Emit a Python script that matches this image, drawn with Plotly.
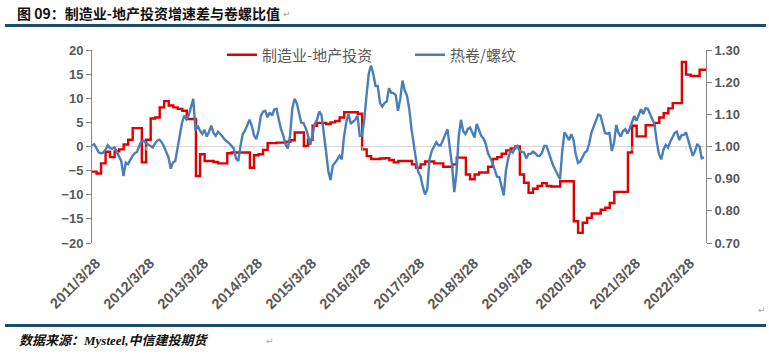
import numpy as np
import pandas as pd
import plotly.graph_objects as go

# ---------------- data ----------------
start_date = "2011-03-28"
end_date = "2022-08-10"

# 制造业-地产投资 (monthly, from 2011/3/28)
red_values = [
    -5.2, -5.6, -3.5, -1.1, -2.2, -1.0, -0.6, 0.4, 1.4, 3.8, 3.8, -3.3,
    1.4, 5.8, 6.0, 8.1, 9.4, 8.5, 8.1, 7.8, 7.4, 5.7, 5.7, -6.1,
    -1.6, -3.0, -3.0, -3.2, -3.5, -3.5, -1.4, -1.25, -1.25, -1.25, -1.25, -4.4,
    -1.8, -1.6, -0.7, 0.7, 0.7, 0.8, 0.8, 1.0, 1.3, 2.9, 2.9, 0.1,
    1.4, 4.3, 4.9, 4.9, 4.65, 5.0, 5.3, 6.0, 7.1, 7.1, 7.1, 6.8,
    -0.6, -2.0, -2.6, -2.6, -2.5, -2.4, -2.8, -3.3, -3.0, -3.0, -3.0, -3.7,
    -4.4, -3.7, -3.1, -3.1, -3.5, -3.5, -4.2, -4.2, -3.7, -2.3, -2.3, -5.8,
    -6.8, -5.8, -5.4, -5.4, -4.2, -2.6, -2.2, -1.5, -0.8, -0.4, 0.0, -5.8,
    -7.5, -9.6, -8.75, -8.2, -7.6, -8.2, -8.3, -8.3, -7.2, -7.2, -7.2, -15.5,
    -17.9, -15.8, -14.8, -13.9, -13.9, -13.1, -12.7, -11.7, -9.4, -9.4, -9.4, -1.25,
    4.3, 2.1, 2.1, 4.4, 4.4, 4.9, 6.0, 6.9, 7.9, 9.0, 9.0, 17.5,
    14.9, 14.6, 14.6, 15.9, 15.9,
]

# 热卷/螺纹 (half-monthly, from 2011/3/28)
blue_values = [
    1.004, 1.007, 0.994, 0.981, 0.979, 0.981, 0.990, 1.004, 0.995, 0.993,
    0.997, 0.983, 0.971, 0.955, 0.908, 0.950, 0.945, 0.960, 0.971, 0.979,
    0.983, 1.002, 1.016, 1.018, 1.010, 1.006, 1.000, 0.997, 1.009, 1.018,
    1.021, 1.013, 1.000, 0.983, 0.966, 0.931, 0.950, 0.955, 0.997, 1.042,
    1.073, 1.096, 1.085, 1.098, 1.122, 1.148, 1.049, 1.065, 1.049, 1.039,
    1.052, 1.031, 1.046, 1.065, 1.042, 1.033, 1.046, 1.039, 1.031, 1.021,
    1.016, 1.010, 1.002, 0.994, 0.963, 0.955, 1.002, 1.039, 1.049, 1.065,
    1.083, 1.065, 1.035, 1.023, 1.049, 1.094, 1.108, 1.111, 1.091, 1.106,
    1.096, 1.115, 1.117, 1.085, 1.054, 1.035, 1.007, 0.994, 1.033, 1.117,
    1.148, 1.135, 1.101, 1.074, 1.073, 1.057, 1.035, 1.005, 1.034, 1.070,
    1.083, 1.109, 1.098, 1.049, 0.986, 0.924, 0.896, 0.940, 0.948, 0.959,
    0.971, 0.960, 1.031, 1.075, 1.101, 1.070, 1.077, 1.083, 1.096, 1.033,
    1.035, 1.083, 1.158, 1.226, 1.252, 1.226, 1.188, 1.188, 1.135, 1.124,
    1.135, 1.140, 1.181, 1.167, 1.166, 1.160, 1.111, 1.148, 1.205, 1.174,
    1.158, 1.117, 1.054, 1.004, 0.960, 0.921, 0.908, 0.875, 0.851, 0.867,
    0.960, 0.986, 1.000, 1.013, 1.004, 1.004, 1.020, 1.039, 1.054, 0.997,
    0.942, 0.858, 0.919, 1.033, 1.083, 1.047, 1.039, 1.054, 1.059, 1.044,
    1.028, 1.070, 1.050, 1.033, 1.025, 1.008, 0.979, 0.966, 0.950, 0.927,
    0.906, 0.905, 0.872, 0.848, 0.927, 0.964, 0.986, 0.981, 0.997, 1.002,
    0.988, 0.983, 0.981, 0.963, 0.977, 0.977, 0.984, 0.979, 0.971, 0.971,
    0.981, 1.002, 1.002, 0.981, 0.960, 0.940, 0.926, 0.914, 0.898, 0.986,
    1.044, 1.033, 1.020, 1.038, 1.021, 0.976, 0.949, 0.953, 0.970, 0.981,
    0.986, 1.010, 1.044, 1.063, 1.080, 1.099, 1.096, 1.065, 1.042, 1.040,
    1.042, 0.986, 1.010, 1.067, 1.042, 1.031, 1.048, 1.054, 1.040, 1.056,
    1.077, 1.095, 1.080, 1.096, 1.116, 1.101, 1.119, 1.117, 1.101, 1.083,
    1.069, 1.015, 0.976, 0.960, 0.990, 1.005, 0.997, 1.015, 1.027, 1.042,
    1.046, 1.020, 1.035, 1.036, 1.044, 1.020, 0.997, 0.971, 0.985, 1.008,
    1.000, 0.963, 0.966,
]

tick_years = list(range(2011, 2023))
tick_labels = [f"{y}/3/28" for y in tick_years]
tick_dates = [f"{y}-03-28" for y in tick_years]

red_name = "制造业-地产投资"
blue_name = "热卷/螺纹"
title_text = "图 09：制造业-地产投资增速差与卷螺比值"
source_text = "数据来源：Mysteel,中信建投期货"

# ---------------- build ----------------
start = pd.Timestamp(start_date)
end = pd.Timestamp(end_date)
red_dates = list(pd.date_range(start, periods=len(red_values), freq=pd.DateOffset(months=1)))
red_x = red_dates + [end]
red_y = red_values + [red_values[-1]]
blue_x = start + pd.to_timedelta(np.arange(len(blue_values)) * 365.25 / 24, unit="D")

W, H = 769, 354
ML, MR, MT, MB = 92, 63, 50, 111
PW, PH = W - ML - MR, H - MT - MB


def px(xp):
    return (xp - ML) / PW


def py(yp):
    return (H - MB - yp) / PH


AX = "#868686"
TXT = "#595959"
NAVY = "#1d4b6c"

fig = go.Figure()
fig.add_trace(go.Scatter(
    x=red_x, y=red_y, name=red_name, mode="lines", line_shape="hv",
    line=dict(color="#e00000", width=2.4), yaxis="y",
))
fig.add_trace(go.Scatter(
    x=blue_x, y=blue_values, name=blue_name, mode="lines",
    line=dict(color="#4a7ebb", width=2.4), yaxis="y2",
))

tickfont = dict(family="Liberation Sans, Arial", size=13, color=TXT, weight="bold")
xtickfont = dict(family="Liberation Sans, Arial", size=14.5, color=TXT, weight="bold")

fig.update_layout(
    width=W, height=H,
    margin=dict(l=ML, r=MR, t=MT, b=MB),
    paper_bgcolor="white", plot_bgcolor="white",
    showlegend=True,
    legend=dict(
        orientation="h", x=px(222), y=py(55), xanchor="left", yanchor="middle",
        font=dict(family="Noto Sans CJK SC", size=15, color=TXT),
        bgcolor="rgba(0,0,0,0)", entrywidth=143, entrywidthmode="pixels",
        itemwidth=30,
    ),
    xaxis=dict(
        type="date", range=[start, end], tickvals=tick_dates, ticktext=tick_labels,
        tickangle=-45, tickfont=xtickfont, showgrid=False, showline=False,
        ticks="", zeroline=False, ticklabelstandoff=8, ticklabelshift=4,
    ),
    yaxis=dict(
        range=[-20, 20], dtick=5, tick0=0, showgrid=False, showline=True,
        linecolor=AX, linewidth=1, ticks="outside", ticklen=5, tickcolor=AX,
        zeroline=True, zerolinecolor="#d9d9d9", zerolinewidth=1,
        tickfont=tickfont,
    ),
    yaxis2=dict(
        range=[0.7, 1.3], dtick=0.1, tick0=0.7, tickformat=".2f", side="right",
        overlaying="y", showgrid=False, showline=True, linecolor=AX, linewidth=1,
        ticks="outside", ticklen=5, tickcolor=AX, zeroline=False,
        tickfont=tickfont,
    ),
)

# small tick marks on the zero line
for d in tick_dates:
    fig.add_shape(type="line", xref="x", yref="y", x0=d, x1=d, ysizemode="pixel",
                  yanchor=0, y0=0, y1=-4, line=dict(color="#d9d9d9", width=1))

# header / footer rules
for yy in (25.5, 325.5):
    fig.add_shape(type="line", xref="paper", yref="paper", x0=px(5), x1=px(766),
                  y0=py(yy), y1=py(yy), line=dict(color=NAVY, width=3))

fig.add_annotation(
    text=f"<b>{title_text}</b>", xref="paper", yref="paper", x=px(15), y=py(13),
    xanchor="left", yanchor="middle", showarrow=False,
    font=dict(family="Noto Sans CJK SC", size=14, color="#111111"),
)
fig.add_annotation(
    text=f"<b><i>{source_text}</i></b>", xref="paper", yref="paper", x=px(17), y=py(340),
    xanchor="left", yanchor="middle", showarrow=False,
    font=dict(family="Liberation Serif, Noto Sans CJK SC", size=13, color="#111111"),
)
for (mx, my) in ((287, 14), (270, 341), (762, 310)):
    fig.add_annotation(text="↵", xref="paper", yref="paper", x=px(mx), y=py(my),
                       xanchor="center", yanchor="middle", showarrow=False,
                       font=dict(family="DejaVu Sans", size=9, color="#a6a6a6"))

fig.write_html("out.html")
